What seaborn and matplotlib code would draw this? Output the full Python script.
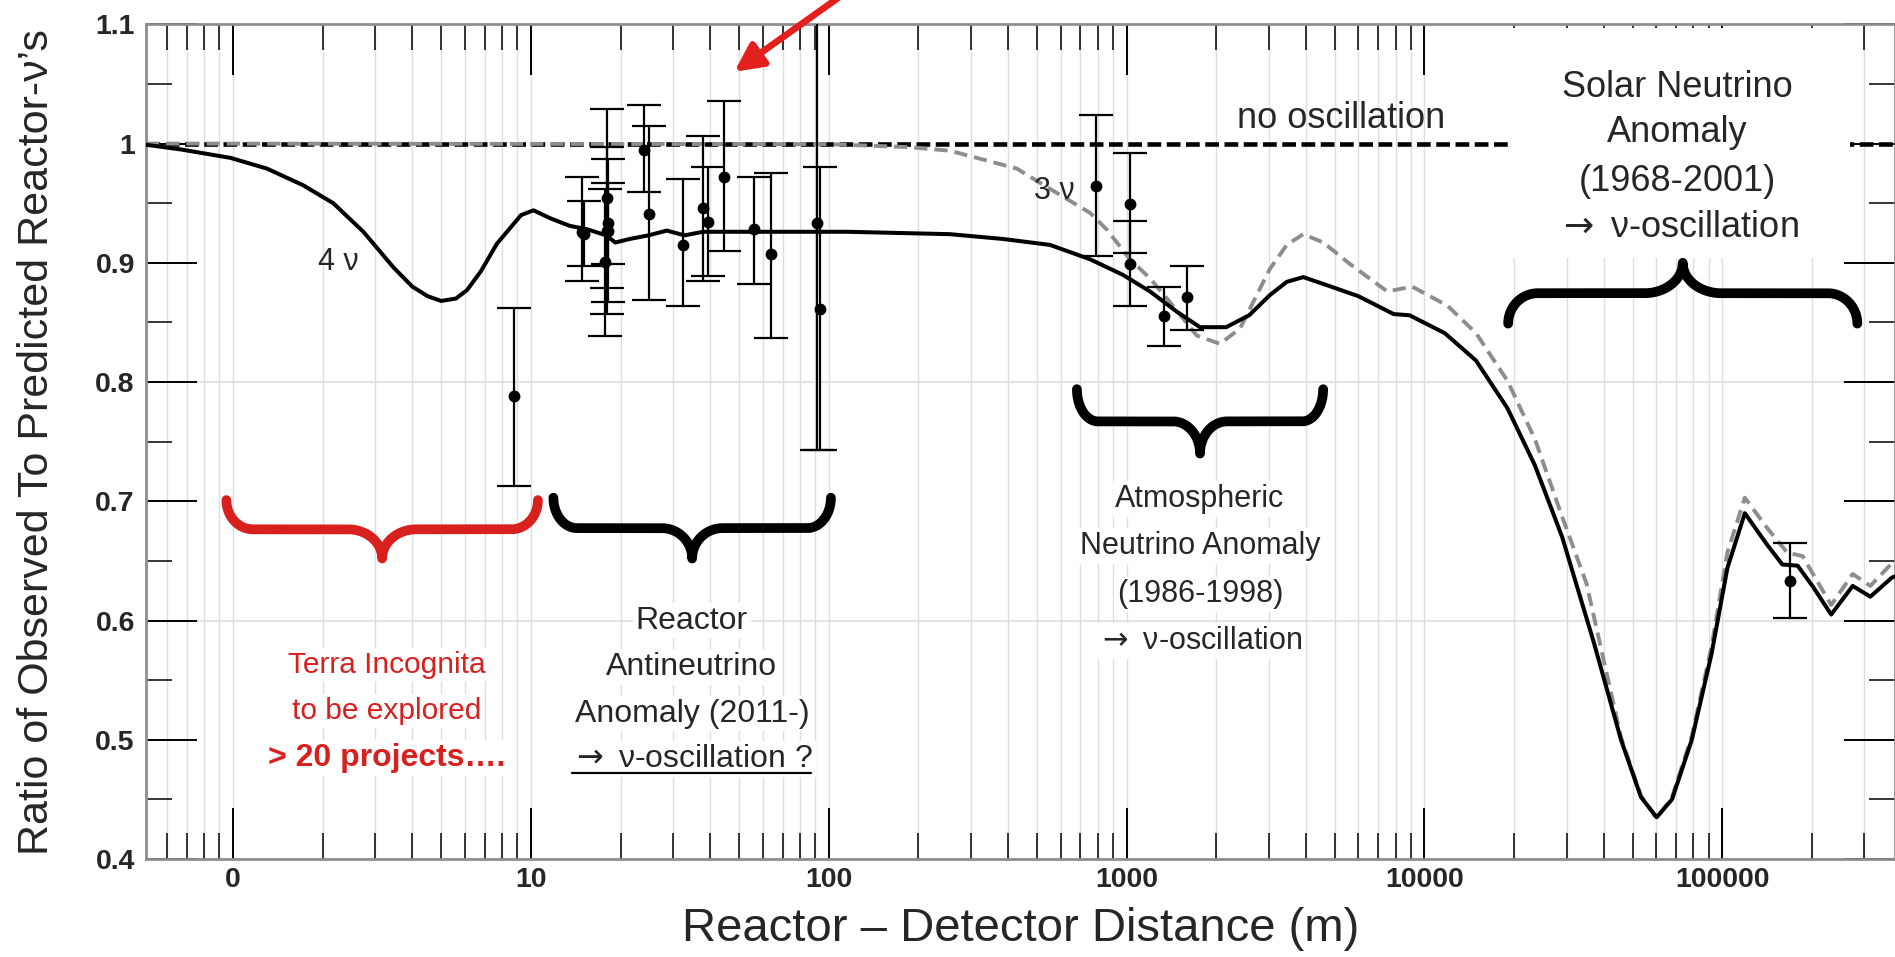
import numpy as np
import matplotlib
matplotlib.use("Agg")
import matplotlib.pyplot as plt
import seaborn as sns
from matplotlib import font_manager as fm
from matplotlib.ticker import FixedLocator, FixedFormatter, LogLocator, NullFormatter, MultipleLocator
from matplotlib.patches import Rectangle, FancyArrowPatch
from matplotlib.lines import Line2D
from matplotlib.transforms import IdentityTransform

# ---------------- data ----------------
curve4_x = [0.51, 0.67, 0.98, 1.30, 1.72, 2.17, 2.74, 3.46, 4.0, 4.5, 5.0, 5.6, 6.1, 6.8, 7.69, 9.27, 10.2,
            11.7, 13.5, 15.5, 17.9, 19.2, 21.5, 24.8, 28.6, 32.8, 37.8, 45.6, 72.9, 116, 255, 384, 553,
            753, 970, 1198, 1475, 1763, 2160, 2580, 3030, 3450, 3918, 4860, 6000, 7880, 8910, 11700,
            14900, 19000, 23500, 29000, 37000, 45700, 53300, 60200, 67800, 79000, 92000, 104000,
            119000, 141000, 159000, 179000, 202000, 232000, 274000, 314000, 371000, 380000]
curve4_y = [0.999, 0.995, 0.988, 0.979, 0.965, 0.950, 0.926, 0.896, 0.880, 0.872, 0.868, 0.870, 0.877,
            0.893, 0.916, 0.940, 0.944, 0.937, 0.931, 0.928, 0.923, 0.917, 0.920, 0.923, 0.927, 0.923,
            0.926, 0.926, 0.926, 0.926, 0.924, 0.920, 0.915, 0.903, 0.890, 0.876, 0.859, 0.846, 0.846,
            0.856, 0.873, 0.884, 0.888, 0.880, 0.872, 0.857, 0.856, 0.841, 0.818, 0.778, 0.730, 0.670,
            0.582, 0.500, 0.452, 0.435, 0.450, 0.500, 0.572, 0.644, 0.690, 0.664, 0.647, 0.646, 0.628,
            0.605, 0.629, 0.620, 0.636, 0.637]

curve3_x = [0.51, 100, 186, 255, 428, 553, 753, 857, 1026, 1198, 1398, 1720, 2060, 2405, 2735, 3030,
            3450, 3918, 4575, 5620, 7500, 9100, 11950, 14900, 19000, 23500, 29000, 35000, 45700, 53300,
            60200, 67800, 79000, 92000, 104000, 119000, 141000, 165000, 186000, 232000, 274000, 314000,
            371000, 380000]
curve3_y = [1.0, 0.9995, 0.997, 0.994, 0.979, 0.962, 0.942, 0.928, 0.903, 0.887, 0.867, 0.839, 0.832,
            0.845, 0.873, 0.895, 0.915, 0.924, 0.917, 0.899, 0.876, 0.880, 0.864, 0.841, 0.801, 0.752,
            0.687, 0.631, 0.502, 0.453, 0.434, 0.452, 0.503, 0.578, 0.657, 0.703, 0.678, 0.657, 0.654,
            0.613, 0.639, 0.629, 0.648, 0.649]

noosc_x = [0.51, 380000]
noosc_y = [1.0, 1.0]

pts_x = [8.8, 14.9, 15.1, 18.0, 18.2, 18.0, 17.8, 18.1, 24.0, 25.0, 32.5, 37.7, 39.4, 44.5, 56.0, 64.0,
         91.0, 93.5, 787, 1030, 1030, 1340, 1600, 169000]
pts_y = [0.788, 0.926, 0.924, 0.954, 0.933, 0.927, 0.901, 0.927, 0.995, 0.941, 0.915, 0.946, 0.934,
         0.972, 0.928, 0.907, 0.933, 0.861, 0.964, 0.949, 0.899, 0.855, 0.871, 0.633]
pts_err_lo = [0.075, 0.041, 0.027, 0.075, 0.034, 0.070, 0.062, 0.060, 0.036, 0.072, 0.051, 0.061, 0.045,
              0.062, 0.046, 0.070, 0.190, 0.118, 0.058, 0.041, 0.035, 0.025, 0.027, 0.031]
pts_err_hi = [0.074, 0.046, 0.028, 0.075, 0.034, 0.070, 0.061, 0.060, 0.037, 0.074, 0.055, 0.060, 0.046,
              0.064, 0.044, 0.068, 0.190, 0.119, 0.060, 0.043, 0.036, 0.025, 0.026, 0.032]

xtick_vals = [1, 10, 100, 1000, 10000, 100000]
xtick_labels = ["0", "10", "100", "1000", "10000", "100000"]
ytick_vals = [0.4, 0.5, 0.6, 0.7, 0.8, 0.9, 1.0, 1.1]
ytick_labels = ["0.4", "0.5", "0.6", "0.7", "0.8", "0.9", "1", "1.1"]
hgrid_vals = [0.6, 0.8]

# ---------------- style ----------------
sns.set_style("ticks")


def has_font(name):
    try:
        fm.findfont(fm.FontProperties(family=name), fallback_to_default=False)
        return True
    except Exception:
        return False


main_font = "Liberation Sans" if has_font("Liberation Sans") else "DejaVu Sans"
plt.rcParams["font.family"] = [main_font, "DejaVu Sans"]
plt.rcParams["mathtext.fontset"] = "dejavusans"
narrow = "Liberation Sans Narrow" if has_font("Liberation Sans Narrow") else main_font
tick_size = 23 if narrow != main_font else 20.5
plt.rcParams["xtick.labelsize"] = tick_size
plt.rcParams["ytick.labelsize"] = tick_size

RED = "#d8201f"
ARROW = r"$\rightarrow$"

fig = plt.figure(figsize=(18.95, 9.57), dpi=100)
ax = fig.add_axes([0.077, 0.1024, 0.923, 0.8722])
ax.set_xscale("log")
ax.set_xlim(0.51, 380000)
ax.set_ylim(0.4, 1.1)

# grid
ax.set_axisbelow(True)
ax.grid(True, which="both", axis="x", color="#dedede", lw=1.0)
for hv in hgrid_vals:
    ax.axhline(hv, color="#dedede", lw=1.2, zorder=0.5)

# curves
sns.lineplot(x=noosc_x, y=noosc_y, ax=ax, color="black", lw=3.3, sort=False, estimator=None, zorder=2)
ax.lines[-1].set_dashes([3.0, 1.2])
sns.lineplot(x=curve3_x, y=curve3_y, ax=ax, color="#8d8d8d", lw=2.8, sort=False, estimator=None, zorder=3)
ax.lines[-1].set_dashes([3.4, 1.8])
sns.lineplot(x=curve4_x, y=curve4_y, ax=ax, color="black", lw=2.9, sort=False, estimator=None, zorder=3.2)

# solar text background box (covers the no-oscillation line)
ax.add_patch(Rectangle((19800, 0.904), 268000 - 19800, 1.097 - 0.904, facecolor="white",
                       edgecolor="none", zorder=2.5))

# data points
ax.errorbar(pts_x, pts_y, yerr=[pts_err_lo, pts_err_hi], fmt="o", color="black", ms=7.5,
            elinewidth=1.6, capsize=12, capthick=1.6, zorder=4)

# ticks
ax.xaxis.set_major_locator(FixedLocator(xtick_vals))
ax.xaxis.set_major_formatter(FixedFormatter(xtick_labels))
ax.xaxis.set_minor_locator(LogLocator(base=10, subs=np.arange(2, 10), numticks=20))
ax.xaxis.set_minor_formatter(NullFormatter())
ax.yaxis.set_major_locator(FixedLocator(ytick_vals))
ax.yaxis.set_major_formatter(FixedFormatter(ytick_labels))
ax.yaxis.set_minor_locator(MultipleLocator(0.05))
ax.tick_params(which="major", direction="in", length=37, width=1.4, color="black",
               top=True, right=True, labelsize=tick_size, pad=8)
ax.tick_params(which="minor", direction="in", length=19, width=1.1, color="black",
               top=True, right=True)
ax.tick_params(axis="x", which="major", pad=6)

for sp in ax.spines.values():
    sp.set_color("#8e8e8e")
    sp.set_linewidth(2.0)

ax.set_xlabel("Reactor \u2013 Detector Distance (m)", fontsize=34, labelpad=10)
ax.set_ylabel("Ratio of Observed To Predicted Reactor-\u03bd\u2019s", fontsize=31, va="center")
ax.yaxis.set_label_coords(-0.062, 0.5)


# ---------------- annotations ----------------
def draw_brace(x0, x1, y_end, y_tip, color, lw=7.0):
    u0, u1 = np.log10(x0), np.log10(x1)
    uc = 0.5 * (u0 + u1)
    half = 0.5 * (u1 - u0)
    r1, r2 = 0.17 * half, 0.22 * half
    y_mid = y_end + 0.5 * (y_tip - y_end)
    th = np.linspace(0, np.pi / 2, 40)
    ua = u0 + r1 * (1 - np.cos(th))
    ya = y_end + (y_mid - y_end) * np.sin(th)
    ub = np.array([u0 + r1, uc - r2])
    yb = np.array([y_mid, y_mid])
    uc_ = uc - r2 + r2 * np.sin(th)
    yc_ = y_mid + (y_tip - y_mid) * (1 - np.cos(th))
    uL = np.concatenate([ua, ub, uc_])
    yL = np.concatenate([ya, yb, yc_])
    uR = (2 * uc - uL)[::-1]
    yR = yL[::-1]
    u = np.concatenate([uL, uR])
    y = np.concatenate([yL, yR])
    ax.plot(10 ** u, y, color=color, lw=lw, solid_capstyle="round", solid_joinstyle="round", zorder=3.5)


draw_brace(0.95, 10.56, 0.701, 0.652, RED)
draw_brace(11.9, 101.7, 0.703, 0.652, "black")
draw_brace(681, 4570, 0.794, 0.740, "black")
draw_brace(19100, 284000, 0.849, 0.900, "black")

wb = dict(facecolor="white", edgecolor="none", pad=2)
txt_kw = dict(ha="center", va="center", fontsize=23, zorder=1.8, bbox=wb)


def text_block(x, ys, lines, **kw):
    out = []
    for yy, line in zip(ys, lines):
        k = dict(txt_kw)
        k.update(kw)
        out.append(ax.text(x, yy, line, **k))
    return out


text_block(70500, [1.047, 1.009, 0.968, 0.930],
           ["Solar Neutrino", "Anomaly", "(1968-2001)", ARROW + " \u03bd-oscillation"], zorder=3, fontsize=26)
text_block(1763, [0.702, 0.6625, 0.622, 0.583],
           ["Atmospheric", "Neutrino Anomaly", "(1986-1998)", ARROW + " \u03bd-oscillation"], fontsize=22)
rt = text_block(34.7, [0.600, 0.561, 0.522, 0.484],
                ["Reactor", "Antineutrino", "Anomaly (2011-)", ARROW + " \u03bd-oscillation ?"], fontsize=23)
text_block(3.29, [0.563, 0.524], ["Terra Incognita", "to be explored"], color=RED, fontsize=21.5)
text_block(3.29, [0.485], ["> 20 projects\u2026."], color=RED, fontweight="bold", fontsize=23)

ax.text(5250, 1.021, "no oscillation", ha="center", va="center", fontsize=26, zorder=5)
ax.text(574, 0.960, "3 \u03bd", ha="center", va="center", fontsize=22, zorder=5)
ax.text(2.25, 0.901, "4 \u03bd", ha="center", va="center", fontsize=22, zorder=5)

# red arrow from outside the top of the figure
arrow = FancyArrowPatch((0.462, 1.03), (0.3875, 0.925), transform=fig.transFigure,
                        arrowstyle="-|>", mutation_scale=42, color="#e3201d", lw=4.8,
                        shrinkA=0, shrinkB=0)
fig.add_artist(arrow)

# finalize tick-label fonts after ticks exist
fig.canvas.draw()
for axis in (ax.xaxis, ax.yaxis):
    for tk in axis.get_major_ticks():
        for lab in (tk.label1, tk.label2):
            lab.set_family([narrow, "DejaVu Sans"])
            lab.set_fontweight("bold")
            lab.set_fontsize(tick_size)

# underline of the last reactor line
fig.canvas.draw()
bb = rt[-1].get_window_extent()
fig.add_artist(Line2D([bb.x0 + 2, bb.x1 - 2], [bb.y0 + 1, bb.y0 + 1], transform=IdentityTransform(),
                      color="black", lw=1.6))

fig.savefig("out.png", dpi=100)
